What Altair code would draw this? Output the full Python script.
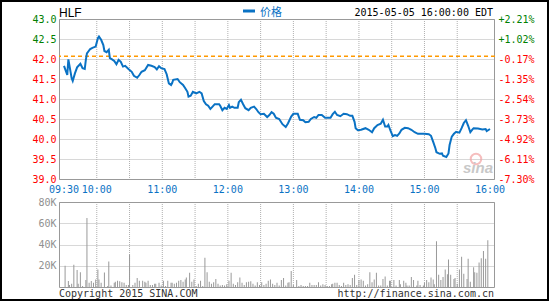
import altair as alt
import pandas as pd

# ---------------- data ----------------
TICKER = "HLF"
PREV_CLOSE = 42.07
STAMP = "2015-05-05 16:00:00 EDT"
SERIES_NAME = "价格"

# minutes after 09:30 and last price
price_minutes = [0, 2, 3, 4, 6, 7, 8, 10, 12, 15, 17, 19, 20, 21, 24, 26, 29, 31, 32, 34,
                 36, 37, 39, 41, 42, 44, 46, 48, 50, 52, 54, 56, 59, 62, 64, 67, 69, 71, 74, 77,
                 80, 83, 85, 87, 89, 92, 94, 96, 98, 99, 100, 104, 106, 109, 111, 113, 114, 116, 118, 121,
                 124, 126, 128, 130, 132, 134, 136, 138, 142, 143, 145, 147, 149, 151, 152, 154, 156, 159, 160, 162,
                 164, 166, 169, 171, 174, 176, 178, 180, 183, 186, 188, 190, 192, 194, 197, 200, 203, 205, 208, 210,
                 214, 216, 219, 221, 224, 226, 229, 231, 233, 236, 239, 244, 246, 248, 250, 253, 256, 259, 262, 264,
                 266, 267, 269, 272, 276, 279, 282, 284, 287, 290, 292, 294, 296, 297, 299, 301, 303, 305, 307, 309,
                 312, 315, 318, 321, 324, 330, 334, 336, 338, 340, 341, 344, 346, 347, 350, 352, 353, 355, 357, 359,
                 362, 364, 366, 368, 370, 372, 374, 375, 379, 383, 386, 387, 390]
price_values = [41.83, 41.68, 41.60, 41.99, 41.68, 41.52, 41.45, 41.64, 41.79, 41.88, 41.77, 41.75, 41.98, 42.14, 42.25, 42.28, 42.31, 42.52, 42.56, 42.48,
                42.35, 42.20, 42.17, 42.23, 42.02, 41.99, 41.95, 41.87, 41.98, 41.93, 41.81, 41.83, 41.75, 41.68, 41.58, 41.53, 41.60, 41.68, 41.72, 41.85,
                41.83, 41.80, 41.74, 41.82, 41.77, 41.75, 41.62, 41.39, 41.35, 41.40, 41.48, 41.50, 41.42, 41.35, 41.27, 41.18, 41.06, 41.08, 41.18, 41.14,
                41.18, 41.14, 40.95, 40.87, 40.83, 40.75, 40.81, 40.87, 40.87, 40.83, 40.72, 40.78, 40.75, 40.85, 40.78, 40.81, 40.78, 40.78, 40.92, 40.98,
                40.87, 40.77, 40.72, 40.78, 40.81, 40.75, 40.67, 40.62, 40.63, 40.55, 40.60, 40.67, 40.63, 40.53, 40.50, 40.37, 40.30, 40.39, 40.56, 40.63,
                40.63, 40.48, 40.47, 40.42, 40.43, 40.50, 40.55, 40.53, 40.60, 40.60, 40.53, 40.53, 40.62, 40.68, 40.60, 40.57, 40.63, 40.62, 40.58, 40.58,
                40.43, 40.27, 40.22, 40.23, 40.27, 40.23, 40.17, 40.27, 40.35, 40.38, 40.48, 40.31, 40.31, 40.35, 40.20, 40.07, 40.10, 40.08, 40.14, 40.23,
                40.28, 40.27, 40.23, 40.17, 40.13, 40.13, 40.12, 40.08, 39.93, 39.77, 39.67, 39.63, 39.64, 39.58, 39.55, 39.64, 39.85, 40.06, 40.13, 40.18,
                40.16, 40.27, 40.40, 40.47, 40.33, 40.17, 40.24, 40.27, 40.26, 40.24, 40.25, 40.20, 40.25]

# minutes after 09:30 and volume in thousands
vol_minutes = [1, 4, 5, 7, 9, 12, 13, 15, 17, 20, 21, 23, 25, 27, 29, 31, 32, 34, 37, 40,
               41, 43, 46, 47, 49, 51, 53, 55, 57, 59, 60, 63, 65, 67, 69, 72, 74, 75, 77, 79,
               81, 83, 84, 87, 89, 91, 93, 95, 98, 99, 101, 103, 105, 107, 109, 111, 112, 115, 117, 119,
               121, 123, 125, 127, 129, 131, 133, 135, 137, 139, 141, 143, 145, 147, 149, 151, 153, 155, 157, 159,
               161, 163, 165, 167, 169, 171, 173, 175, 177, 179, 181, 183, 185, 187, 189, 191, 193, 195, 197, 199,
               201, 203, 205, 206, 208, 210, 213, 215, 217, 219, 221, 223, 225, 227, 229, 231, 233, 235, 237, 239,
               241, 243, 245, 246, 248, 250, 252, 254, 256, 258, 260, 262, 264, 266, 268, 270, 272, 274, 276, 278,
               280, 282, 284, 286, 288, 290, 292, 294, 296, 298, 299, 302, 304, 307, 308, 311, 313, 314, 316, 318,
               320, 323, 324, 326, 329, 330, 332, 334, 336, 338, 339, 341, 343, 345, 347, 349, 351, 352, 354, 357,
               358, 360, 362, 364, 366, 369, 370, 372, 375, 376, 378, 380, 382, 384, 386, 388]
vol_k = [20, 5.7, 2, 3, 21, 16, 3, 14, 1, 6.7, 65, 4, 5.7, 4, 7, 16.5, 7, 4, 13.7, 1,
         24, 1.5, 4, 5, 6, 5.5, 4.5, 4, 2, 2, 30.5, 2, 4, 8.5, 6, 6, 5, 4, 6, 2,
         2, 3, 3, 4, 1.5, 6, 1, 6, 4, 4, 3, 4, 6, 6.5, 5, 7, 9, 13.5, 5, 7,
         1, 3, 6, 1, 27.5, 14, 5, 3, 4.5, 7.5, 3, 1.5, 2, 1.5, 2.5, 6, 13.5, 3, 2, 4.5,
         9, 4, 2, 4.5, 5, 5.5, 3, 1.5, 4.5, 2, 4.5, 2, 3, 6, 7, 3, 2, 4, 1.5, 6.5,
         8.5, 1.5, 4, 4.5, 15, 2, 6.5, 1, 2, 1, 1, 1, 4, 2, 2, 2, 4.5, 1.5, 2.5, 2,
         1, 1, 2.5, 3, 4, 4, 2, 1, 4, 2, 2.5, 2, 8.5, 11.5, 2, 6.5, 7, 6, 1.5, 2.5,
         14, 4.5, 7, 13.5, 1.5, 1.5, 7.5, 10, 1.5, 6, 6, 6.5, 1.5, 6.5, 2.5, 6, 4, 1.5, 1.5, 9.5,
         6.5, 1.5, 6, 2, 1.5, 4, 6.5, 4.5, 9, 7, 2.5, 43, 11.5, 6.5, 9.5, 16.5, 12, 26, 11.5, 7.5,
         8.5, 3, 16.5, 28.5, 12.5, 7.5, 26.5, 5, 18.5, 14, 13.5, 23, 27, 34, 26.5, 44]

time_label_minutes = [0, 30, 90, 150, 210, 270, 330, 390]
time_label_texts = ["09:30", "10:00", "11:00", "12:00", "13:00", "14:00", "15:00", "16:00"]
grid_minutes = [30, 60, 90, 120, 150, 180, 210, 240, 270, 300, 330, 360]
price_ticks = [39.0, 39.5, 40.0, 40.5, 41.0, 41.5, 42.0, 42.5, 43.0]
vol_ticks = [20, 40, 60, 80]

# ---------------- layout / style ----------------
W, H = 436, 268
PRICE_H = 160
VOL_TOP, VOL_BOT = 183, 268
MONO = "DejaVu Sans Mono"
BLUE = "#0a72c4"
GRID = "#b0b0b0"
FRAME = "#999999"
GREEN = "#008000"
RED = "#ff0000"
ORANGE = "#ff9900"

price_df = pd.DataFrame({"m": price_minutes, "p": price_values})
vol_df = pd.DataFrame({"m": vol_minutes, "v": vol_k})
grid_df = pd.DataFrame({"m": grid_minutes})
xlab_df = pd.DataFrame({"m": time_label_minutes, "t": time_label_texts})
prev_df = pd.DataFrame({"p": [PREV_CLOSE]})
one = pd.DataFrame({"a": [0]})

x_scale = alt.Scale(domain=[0, 390], nice=False, zero=False)
xenc = alt.X("m:Q", scale=x_scale, axis=None)
price_scale = alt.Scale(domain=[39, 43], range=[PRICE_H, 0], nice=False, zero=False)
vol_scale = alt.Scale(domain=[0, 80], range=[VOL_BOT, VOL_TOP], nice=False)

color_cond = {"condition": {"test": f"datum.value >= {PREV_CLOSE}", "value": GREEN}, "value": RED}

vgrid_price = alt.Chart(grid_df).mark_rule(color=GRID, strokeDash=[1, 1], strokeWidth=1).encode(
    x=xenc, y=alt.value(0), y2=alt.value(PRICE_H))
vgrid_vol = alt.Chart(grid_df).mark_rule(color=GRID, strokeDash=[1, 1], strokeWidth=1).encode(
    x=xenc, y=alt.value(VOL_TOP), y2=alt.value(VOL_BOT))

price_line = alt.Chart(price_df).mark_line(color=BLUE, strokeWidth=2).encode(
    x=xenc,
    y=alt.Y("p:Q", scale=price_scale,
            axis=alt.Axis(orient="left", values=price_ticks, format=".1f", title=None,
                          domain=False, ticks=False, labelPadding=3, labelFont=MONO,
                          labelFontSize=10, labelColor=color_cond, grid=True,
                          gridColor=GRID, gridDash=[1, 1])),
)

prev_rule = alt.Chart(prev_df).mark_rule(color=ORANGE, strokeDash=[4, 3], strokeWidth=1.5).encode(
    y=alt.Y("p:Q", scale=price_scale,
            axis=alt.Axis(orient="right", values=price_ticks, title=None, domain=False,
                          ticks=False, labelPadding=3, labelFont=MONO, labelFontSize=10,
                          labelColor=color_cond, grid=False,
                          labelExpr=f"(datum.value >= {PREV_CLOSE} ? '+' : '-') + format(abs(datum.value / {PREV_CLOSE} - 1) * 100, '.2f') + '%'")),
)

vol_bars = alt.Chart(vol_df).mark_bar(size=1, color="#999999").encode(
    x=xenc,
    y=alt.Y("v:Q", scale=vol_scale,
            axis=alt.Axis(orient="left", values=vol_ticks, title=None, domain=False,
                          ticks=False, labelPadding=3, labelFont=MONO, labelFontSize=10,
                          labelColor="#909090", labelExpr="datum.value + 'K'", grid=True,
                          gridColor=GRID, gridDash=[1, 1])),
)

frame_price = alt.Chart(one).mark_rect(fill="transparent", stroke=FRAME, strokeWidth=1).encode(
    x=alt.value(0.5), x2=alt.value(W - 0.5), y=alt.value(0.5), y2=alt.value(PRICE_H + 0.5))
frame_vol = alt.Chart(one).mark_rect(fill="transparent", stroke=FRAME, strokeWidth=1).encode(
    x=alt.value(0.5), x2=alt.value(W - 0.5), y=alt.value(VOL_TOP + 0.5), y2=alt.value(VOL_BOT + 0.5))
outer = alt.Chart(one).mark_rect(fill="transparent", stroke="#000000", strokeWidth=2).encode(
    x=alt.value(-58), x2=alt.value(489), y=alt.value(-18), y2=alt.value(281))

xlabels = alt.Chart(xlab_df).mark_text(font=MONO, fontSize=10, color=BLUE, baseline="middle",
                                       align="center").encode(
    x=xenc, y=alt.value(170.5), text="t:N")

def label(txt, x, y, align="left", font=MONO, size=10, color="#000000", **kw):
    return alt.Chart(one).mark_text(text=txt, font=font, fontSize=size, color=color,
                                    align=align, baseline="middle", **kw).encode(
        x=alt.value(x), y=alt.value(y))

title_txt = label(TICKER, 0, -6.5, font="Liberation Sans", size=12)
legend_dash = alt.Chart(one).mark_rule(color=BLUE, strokeWidth=3).encode(
    x=alt.value(184), x2=alt.value(196), y=alt.value(-8), y2=alt.value(-8))
legend_txt = label(SERIES_NAME, 201, -6.5, font="Noto Sans CJK SC", size=11, color=BLUE)
stamp_txt = label(STAMP, 434, -6.5, align="right")
copy_txt = label("Copyright 2015 SINA.COM", 0, 274.5, color="#333333")
url_txt = label("http://finance.sina.com.cn", 435, 274.5, align="right", color="#333333")
wm_logo = alt.Chart(one).mark_point(shape="circle", size=110, stroke="#f3a3a3", strokeWidth=2,
                                    filled=False).encode(x=alt.value(417), y=alt.value(140))
wm_txt = label("sina", 419, 149, align="center", font="Liberation Sans", size=15,
               color="#c8c8c8", fontStyle="italic", fontWeight="bold")

chart = alt.layer(
    vgrid_price, vgrid_vol, frame_price, frame_vol, vol_bars, wm_logo, wm_txt,
    prev_rule, price_line, xlabels, title_txt, legend_dash, legend_txt, stamp_txt,
    copy_txt, url_txt, outer,
).resolve_scale(y="independent").properties(
    width=W, height=H,
    autosize=alt.AutoSizeParams(type="none"),
    padding={"left": 59, "top": 19, "right": 56, "bottom": 15},
    background="white",
).configure_view(stroke=None)

chart.save("out.html", embed_options={"renderer": "svg", "actions": False})
